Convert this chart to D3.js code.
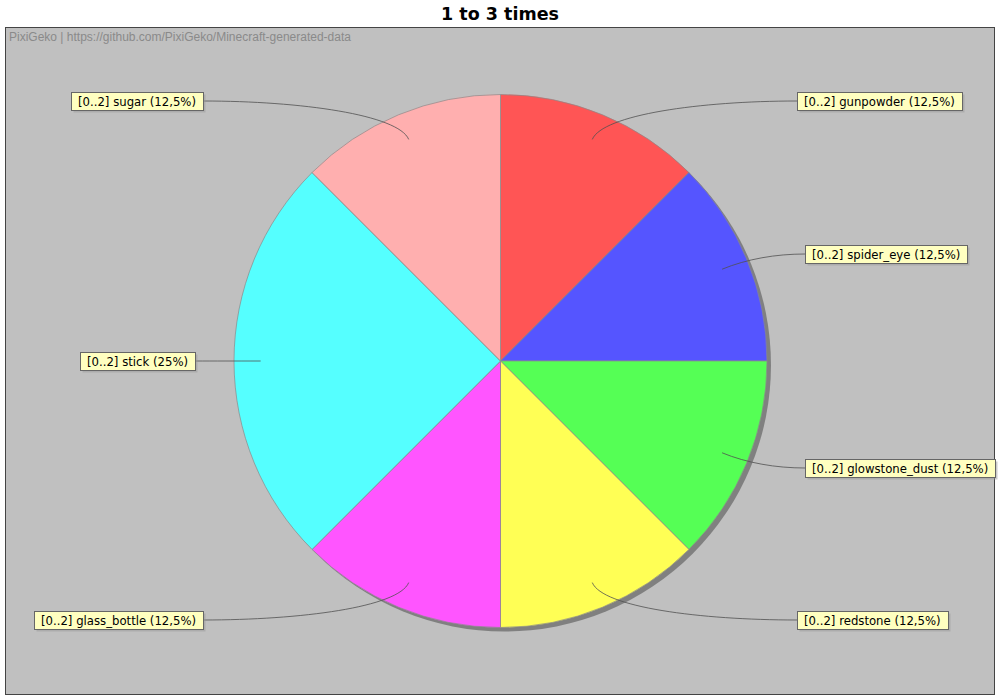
<!DOCTYPE html>
<html>
<head>
<meta charset="utf-8">
<script src="https://cdn.jsdelivr.net/npm/d3@7"></script>
<style>
  body { margin: 0; background: #fff; }
  svg { display: block; }
</style>
</head>
<body>
<script>
(function(){
    // data
    var categories = ["gunpowder", "spider_eye", "glowstone_dust", "redstone", "glass_bottle", "stick", "sugar"];
    var values = [1, 1, 1, 1, 1, 2, 1];
    var percentLabels = ["12,5%", "12,5%", "12,5%", "12,5%", "12,5%", "25%", "12,5%"];
    var rangePrefix = "[0..2]";
    var sliceColors = ["#FF5555", "#5555FF", "#55FF55", "#FFFF55", "#FF55FF", "#55FFFF", "#FFAFAF"];
    // label rows picked by the layout (pixel y of each label centre)
    var labelY = [101, 254, 468, 620, 620, 361, 101];

    var width = 1000, height = 700;
    var svg = d3.select("body").append("svg")
        .attr("width", width)
        .attr("height", height);

    //title
    svg.append("text")
        .attr("x", width / 2)
        .attr("y", 20)
        .attr("text-anchor", "middle")
        .style("font-family", "DejaVu Sans")
        .style("font-weight", "bold")
        .style("font-size", "17.5px")
        .text("1 to 3 times");

    //plot area
    var plot = {x: 5, y: 27, w: 990, h: 668};
    svg.append("rect")
        .attr("x", plot.x + 0.5)
        .attr("y", plot.y + 0.5)
        .attr("width", plot.w - 1)
        .attr("height", plot.h - 1)
        .attr("fill", "#C0C0C0")
        .attr("stroke", "#444")
        .attr("stroke-width", 1);

    svg.append("text")
        .attr("x", 9)
        .attr("y", 41)
        .style("font-family", "Liberation Sans")
        .style("font-size", "12px")
        .attr("fill", "#8a8a8a")
        .text("PixiGeko | https://github.com/PixiGeko/Minecraft-generated-data");

    var cx = 500.5, cy = 361, r = 266.5;

    var pie = d3.pie().sort(null).value(function(d){ return d; });
    var arcs = pie(values);
    var arc = d3.arc().innerRadius(0).outerRadius(r);

    //shadow
    svg.append("circle")
        .attr("cx", cx + 4)
        .attr("cy", cy + 4)
        .attr("r", r)
        .attr("fill", "#808080");

    var g = svg.append("g").attr("transform", "translate(" + cx + "," + cy + ")");
    g.selectAll(".slice")
        .data(arcs)
        .enter()
        .append("path")
        .attr("class", "slice")
        .attr("d", arc)
        .attr("fill", function(d, i){ return sliceColors[i]; })
        .attr("stroke", "#8a8a8a")
        .attr("stroke-width", 0.7);

    //labels
    var linkLayer = svg.append("g");
    var labels = svg.append("g");
    arcs.forEach(function(d, i){
        var mid = (d.startAngle + d.endAngle) / 2;
        var right = Math.sin(mid) >= 0;
        var txt = rangePrefix + " " + categories[i] + " (" + percentLabels[i] + ")";

        var t = labels.append("text")
            .style("font-family", "DejaVu Sans")
            .style("font-size", "11.7px")
            .text(txt);
        var tw = t.node().getComputedTextLength();
        var bw = Math.round(tw + 14), bh = 18;

        var ty = labelY[i];
        var steep = Math.abs(Math.cos(mid)) > 0.8;
        var gapOut = right ? (steep ? 296 : 304) : (steep ? 298 : 306);
        var bx = right ? Math.round(cx + gapOut) : Math.round(cx - gapOut) - bw;
        var targetX = right ? bx : bx + bw;

        //link curve
        var p0 = [cx + Math.sin(mid) * r * 0.9, cy - Math.cos(mid) * r * 0.9];
        var p1 = [cx + Math.sin(mid) * r * 1.0, cy - Math.cos(mid) * r * 1.0];
        var anchorX = p1[0] + (targetX - p1[0]) * 0.5;
        var path = d3.path();
        path.moveTo(p0[0], p0[1]);
        path.bezierCurveTo(p1[0], p1[1], anchorX, ty, targetX, ty);
        linkLayer.append("path")
            .attr("d", path.toString())
            .attr("fill", "none")
            .attr("stroke", "#505050")
            .attr("stroke-width", 0.8);

        //box shadow, box, text
        labels.insert("rect", "text")
            .attr("x", bx + 2.5)
            .attr("y", ty - bh / 2 + 2.5)
            .attr("width", bw)
            .attr("height", bh)
            .attr("fill", "rgba(151,151,151,0.5)");
        labels.insert("rect", "text")
            .attr("x", bx + 0.5)
            .attr("y", ty - bh / 2 + 0.5)
            .attr("width", bw)
            .attr("height", bh)
            .attr("fill", "#FFFFC0")
            .attr("stroke", "#666")
            .attr("stroke-width", 1);
        t.attr("x", bx + 7)
            .attr("y", ty + 4.5);
    });
})();
</script>
</body>
</html>
